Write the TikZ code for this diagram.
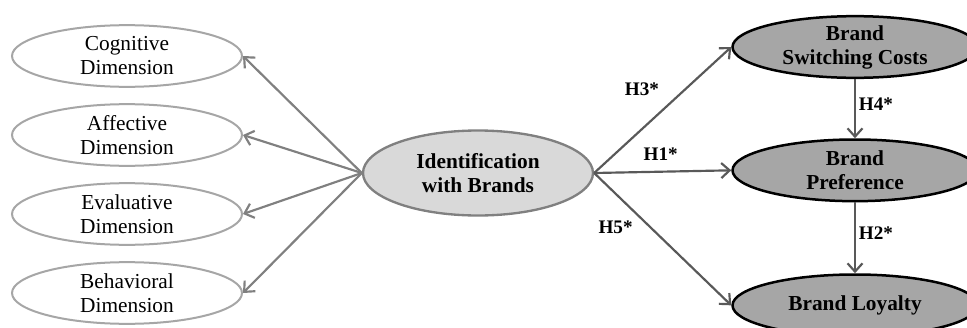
\documentclass[tikz,border=0pt]{standalone}
\usepackage{fontspec}
\setmainfont{Liberation Serif}
\usetikzlibrary{positioning, shapes.geometric, arrows.meta}

\definecolor{dimline}{HTML}{A6A6A6}
\definecolor{coreline}{HTML}{808080}
\definecolor{corefill}{HTML}{D9D9D9}
\definecolor{outfill}{HTML}{A6A6A6}
\definecolor{linkdark}{HTML}{595959}

\tikzset{
	dimbox/.style = {ellipse, draw = dimline, line width = 1.2pt, fill = white,
		minimum width = 138pt, minimum height = 37pt, inner sep = 0pt, align = center,
		font = \fontsize{12.8}{14.4}\selectfont},
	corebox/.style = {ellipse, draw = coreline, line width = 1.4pt, fill = corefill,
		minimum width = 138pt, minimum height = 51pt, inner sep = 0pt, align = center,
		font = \fontsize{12.8}{14.4}\selectfont\bfseries},
	outbox/.style = {ellipse, draw = black, line width = 1.5pt, fill = outfill,
		minimum width = 147pt, minimum height = 37pt, inner sep = 0pt, align = center,
		font = \fontsize{12.8}{14.4}\selectfont\bfseries},
	hyp/.style = {font = \fontsize{11.5}{13}\selectfont\bfseries, text = black, inner sep = 1pt}
}

\begin{document}
\begin{tikzpicture}[x = 0.6pt, y = -0.6pt, node distance = 47.4pt and 0pt, on grid]
	\useasboundingbox (0,0) rectangle (967,327);
	\clip (0,0) rectangle (967,327);
	%\draw[help lines] (0,0) grid (967,327);
	\node (cog) [dimbox] at (127,56) {Cognitive\\Dimension};
	\node (aff) [dimbox, below = of cog] {Affective\\Dimension};
	\node (eva) [dimbox, below = of aff] {Evaluative\\Dimension};
	\node (beh) [dimbox, below = of eva] {Behavioral\\Dimension};
	
	\node (ident) [corebox] at (478,173) {Identification\\with Brands};
	
	\node (switch) [outbox] at (855,47) {Brand\\Switching Costs};
	\node (pref) [outbox, below = 74pt of switch] {Brand\\Preference};
	\node (loyal) [outbox, below = 81pt of pref] {Brand Loyalty};
	
	\begin{scope}[-{Straight Barb[length = 5pt, width = 9pt]}, line width = 1.3pt]
		\draw[coreline] (ident.west) -- (cog.east);
		\draw[coreline] (ident.west) -- (aff.east);
		\draw[coreline] (ident.west) -- (eva.east);
		\draw[coreline] (ident.west) -- (beh.east);
		\draw[linkdark] (ident.east) -- node[hyp, pos = .4, xshift = -4.2pt, yshift = 19.8pt] {H3*} (switch.west);
		\draw[linkdark] (ident.east) -- node[hyp, pos = .5, xshift = -1.2pt, yshift = 10.2pt] {H1*} (pref.west);
		\draw[linkdark] (ident.east) -- node[hyp, pos = .2, xshift = -3.6pt, yshift = -16.8pt] {H5*} (loyal.west);
		\draw[linkdark] (switch.south) -- node[hyp, xshift = 12.6pt, yshift = 2.4pt] {H4*} (pref.north);
		\draw[linkdark] (pref.south) -- node[hyp, xshift = 12.6pt, yshift = 2.7pt] {H2*} (loyal.north);
	\end{scope}
\end{tikzpicture}
\end{document}
